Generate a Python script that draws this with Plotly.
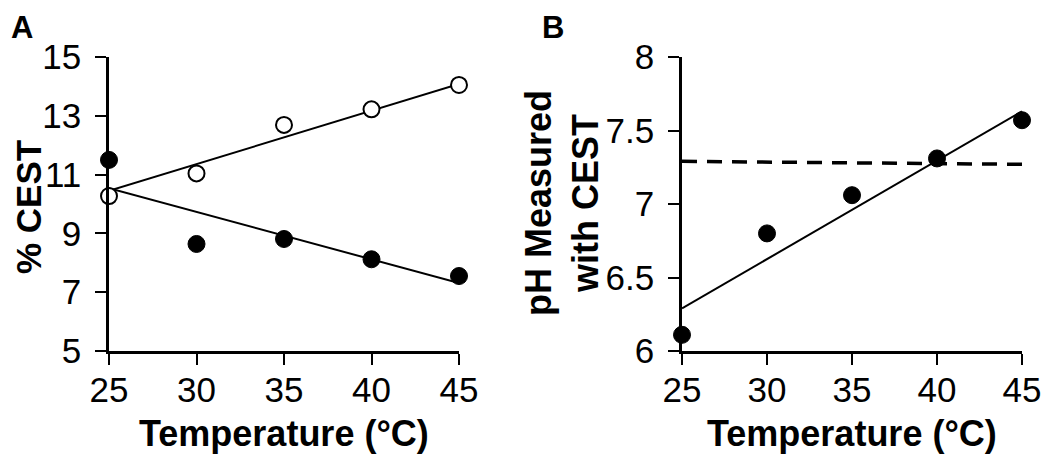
import plotly.graph_objects as go

# ---- data ----
temps = [25, 30, 35, 40, 45]
cest_open = [10.27, 11.04, 12.69, 13.22, 14.05]
cest_filled = [11.5, 8.64, 8.81, 8.12, 7.55]
fit_x = [25, 45]
fit_open = [10.45, 14.08]
fit_filled = [10.54, 7.31]

ph_measured = [6.11, 6.80, 7.06, 7.31, 7.57]
ph_fit = [6.29, 7.63]
ph_ref = [7.29, 7.27]

xticks = [25, 30, 35, 40, 45]
yticks_a = [5, 7, 9, 11, 13, 15]
yticks_b = [6, 6.5, 7, 7.5, 8]
ytick_text_b = ["6", "6.5", "7", "7.5", "8"]

FONT = "Liberation Sans, Arial, sans-serif"
OFF = 8  # page body margin
W, H = 1050 - OFF, 458 - OFF


def px(x):
    return (x - OFF) / W


def py(y):
    return 1 - (y - OFF) / H


fig = go.Figure()

# Panel A
fig.add_trace(go.Scatter(x=fit_x, y=fit_open, mode="lines", line=dict(color="black", width=2),
                         xaxis="x", yaxis="y", cliponaxis=False, showlegend=False))
fig.add_trace(go.Scatter(x=fit_x, y=fit_filled, mode="lines", line=dict(color="black", width=2),
                         xaxis="x", yaxis="y", cliponaxis=False, showlegend=False))
fig.add_trace(go.Scatter(x=temps, y=cest_filled, mode="markers",
                         marker=dict(color="black", size=17, line=dict(color="black", width=1)),
                         xaxis="x", yaxis="y", cliponaxis=False, showlegend=False))
fig.add_trace(go.Scatter(x=temps, y=cest_open, mode="markers",
                         marker=dict(color="white", size=16, line=dict(color="black", width=2)),
                         xaxis="x", yaxis="y", cliponaxis=False, showlegend=False))

# Panel B
fig.add_trace(go.Scatter(x=fit_x, y=ph_ref, mode="lines",
                         line=dict(color="black", width=3.5, dash="15px,10px"),
                         xaxis="x2", yaxis="y2", cliponaxis=False, showlegend=False))
fig.add_trace(go.Scatter(x=fit_x, y=ph_fit, mode="lines", line=dict(color="black", width=2),
                         xaxis="x2", yaxis="y2", cliponaxis=False, showlegend=False))
fig.add_trace(go.Scatter(x=temps, y=ph_measured, mode="markers",
                         marker=dict(color="black", size=17, line=dict(color="black", width=1)),
                         xaxis="x2", yaxis="y2", cliponaxis=False, showlegend=False))

axis_common = dict(showline=True, linecolor="black", linewidth=2.5, ticks="outside",
                   ticklen=11, tickwidth=2, tickcolor="black", showgrid=False, zeroline=False,
                   automargin=False,
                   tickfont=dict(family=FONT, size=35, color="black"), fixedrange=True)

ydom = [py(351), py(57)]

fig.update_layout(
    width=W, height=H,
    margin=dict(l=0, r=0, t=0, b=0),
    paper_bgcolor="white", plot_bgcolor="white",
    xaxis=dict(domain=[px(109), px(459)], range=[25, 45], tickvals=xticks,
               anchor="y", ticklabelstandoff=-5, **axis_common),
    yaxis=dict(domain=ydom, range=[5, 15], tickvals=yticks_a,
               anchor="x", ticklabelstandoff=7, **axis_common),
    xaxis2=dict(domain=[px(682), px(1022)], range=[25, 45], tickvals=xticks,
                anchor="y2", ticklabelstandoff=-5, **axis_common),
    yaxis2=dict(domain=ydom, range=[6, 8], tickvals=yticks_b, ticktext=ytick_text_b,
                anchor="x2", ticklabelstandoff=7, **axis_common),
)

title_font = dict(family=FONT, size=36, color="black", weight="bold")
ann = [
    dict(text="A", x=px(9), y=py(8), xanchor="left", yanchor="top",
         font=dict(family=FONT, size=31, color="black", weight="bold")),
    dict(text="B", x=px(540), y=py(8), xanchor="left", yanchor="top",
         font=dict(family=FONT, size=31, color="black", weight="bold")),
    dict(text="Temperature (°C)", x=px(284), y=py(433), xanchor="center", yanchor="middle",
         font=title_font),
    dict(text="Temperature (°C)", x=px(852), y=py(433), xanchor="center", yanchor="middle",
         font=title_font),
    dict(text="% CEST", x=px(28), y=py(207), xanchor="center", yanchor="middle",
         textangle=-90, font=dict(family=FONT, size=35, color="black", weight="bold")),
    dict(text="pH Measured<br>with CEST", x=px(562), y=py(203), xanchor="center",
         yanchor="middle", textangle=-90, font=title_font),
]
for a in ann:
    a.update(xref="paper", yref="paper", showarrow=False)
fig.update_layout(annotations=ann)

fig.write_html("out.html")
